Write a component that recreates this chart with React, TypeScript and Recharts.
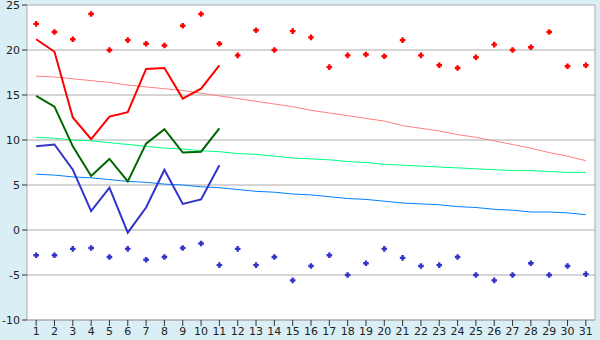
import {
  ComposedChart,
  Line,
  Scatter,
  XAxis,
  YAxis,
  CartesianGrid,
  ReferenceLine,
} from "recharts";

const days = Array.from({ length: 31 }, (_, i) => i + 1);

// record highs / lows (markers)
const recordMax = [
  22.9, 22.0, 21.2, 24.0, 20.0, 21.1, 20.7, 20.5, 22.7, 24.0, 20.7, 19.4, 22.2, 20.0, 22.1, 21.4,
  18.1, 19.4, 19.5, 19.3, 21.1, 19.4, 18.3, 18.0, 19.2, 20.6, 20.0, 20.3, 22.0, 18.2, 18.3,
];
const recordMin = [
  -2.8, -2.8, -2.1, -2.0, -3.0, -2.1, -3.3, -3.0, -2.0, -1.5, -3.9, -2.1, -3.9, -3.0, -5.6, -4.0,
  -2.8, -5.0, -3.7, -2.1, -3.1, -4.0, -3.9, -3.0, -5.0, -5.6, -5.0, -3.7, -5.0, -4.0, -4.9,
];

// this month so far
const curMax = [21.2, 19.8, 12.5, 10.1, 12.6, 13.1, 17.9, 18.0, 14.6, 15.7, 18.3];
const curMean = [14.9, 13.7, 9.3, 6.0, 7.9, 5.4, 9.6, 11.2, 8.6, 8.7, 11.3];
const curMin = [9.3, 9.5, 6.7, 2.1, 4.7, -0.3, 2.5, 6.7, 2.9, 3.4, 7.2];

// long-term averages
const avgMax = [
  17.1, 17.0, 16.8, 16.6, 16.4, 16.1, 15.9, 15.7, 15.5, 15.2, 14.9, 14.6, 14.3, 14.0, 13.7, 13.3,
  13.0, 12.7, 12.4, 12.1, 11.6, 11.3, 11.0, 10.6, 10.3, 9.9, 9.5, 9.1, 8.6, 8.2, 7.7,
];
const avgMean = [
  10.3, 10.2, 10.0, 9.9, 9.7, 9.5, 9.3, 9.1, 9.0, 8.8, 8.7, 8.5, 8.4, 8.2, 8.0, 7.9,
  7.8, 7.6, 7.5, 7.3, 7.2, 7.1, 7.0, 6.9, 6.8, 6.7, 6.6, 6.6, 6.5, 6.4, 6.4,
];
const avgMin = [
  6.2, 6.1, 5.9, 5.8, 5.6, 5.4, 5.3, 5.1, 5.0, 4.8, 4.7, 4.5, 4.3, 4.2, 4.0, 3.9,
  3.7, 3.5, 3.4, 3.2, 3.0, 2.9, 2.8, 2.6, 2.5, 2.3, 2.2, 2.0, 2.0, 1.9, 1.7,
];

const yTicks = [-10, -5, 0, 5, 10, 15, 20, 25];

const data = days.map((d, i) => ({
  day: d,
  recordMax: recordMax[i],
  recordMin: recordMin[i],
  curMax: curMax[i],
  curMean: curMean[i],
  curMin: curMin[i],
  avgMax: avgMax[i],
  avgMean: avgMean[i],
  avgMin: avgMin[i],
}));

// small plus-shaped marker
const Cross = (color: string) => (props: any) => {
  const { cx, cy } = props;
  if (cx == null || cy == null) return null;
  const a = 1.2;
  const b = 2.8;
  const p = [
    [-a, -b], [a, -b], [a, -a], [b, -a], [b, a], [a, a], [a, b],
    [-a, b], [-a, a], [-b, a], [-b, -a], [-a, -a],
  ]
    .map(([x, y]) => `${cx + x},${cy + y}`)
    .join(" ");
  return <polygon points={p} fill={color} />;
};

const tickStyle = { fontSize: 11, fill: "#222", fontFamily: "DejaVu Sans, Verdana, sans-serif" };

export default function App() {
  return (
    <div style={{ position: "absolute", left: 0, top: 0, width: 600, height: 340, background: "#d9eef5" }}>
      <ComposedChart width={600} height={340} data={data} margin={{ top: 5, right: 5, left: 0, bottom: 0 }}>
        <CartesianGrid vertical={false} stroke="#aaaaaa" fill="#ffffff" fillOpacity={1} />
        <XAxis
          dataKey="day"
          type="number"
          domain={[0.5, 31.5]}
          ticks={days}
          interval={0}
          height={20}
          tickSize={6}
          tickMargin={1}
          stroke="#aaaaaa"
          tick={tickStyle}
          tickLine={{ stroke: "#333" }}
          allowDataOverflow
        />
        <YAxis
          domain={[-10, 25]}
          ticks={yTicks}
          interval={0}
          width={27}
          tickSize={5}
          tickMargin={2}
          stroke="#aaaaaa"
          tick={tickStyle}
          tickLine={{ stroke: "#333" }}
          allowDataOverflow
        />
        <ReferenceLine x={31.5} stroke="#aaaaaa" />
        <Line dataKey="avgMax" stroke="#ff8080" strokeWidth={1} dot={false} isAnimationActive={false} />
        <Line dataKey="avgMean" stroke="#00ff80" strokeWidth={1} dot={false} isAnimationActive={false} />
        <Line dataKey="avgMin" stroke="#0080ff" strokeWidth={1} dot={false} isAnimationActive={false} />
        <Line dataKey="curMax" stroke="#ff0000" strokeWidth={2} dot={false} isAnimationActive={false} />
        <Line dataKey="curMean" stroke="#006600" strokeWidth={2} dot={false} isAnimationActive={false} />
        <Line dataKey="curMin" stroke="#3333cc" strokeWidth={2} dot={false} isAnimationActive={false} />
        <Scatter dataKey="recordMax" shape={Cross("#ff0000")} isAnimationActive={false} />
        <Scatter dataKey="recordMin" shape={Cross("#3333cc")} isAnimationActive={false} />
      </ComposedChart>
    </div>
  );
}
